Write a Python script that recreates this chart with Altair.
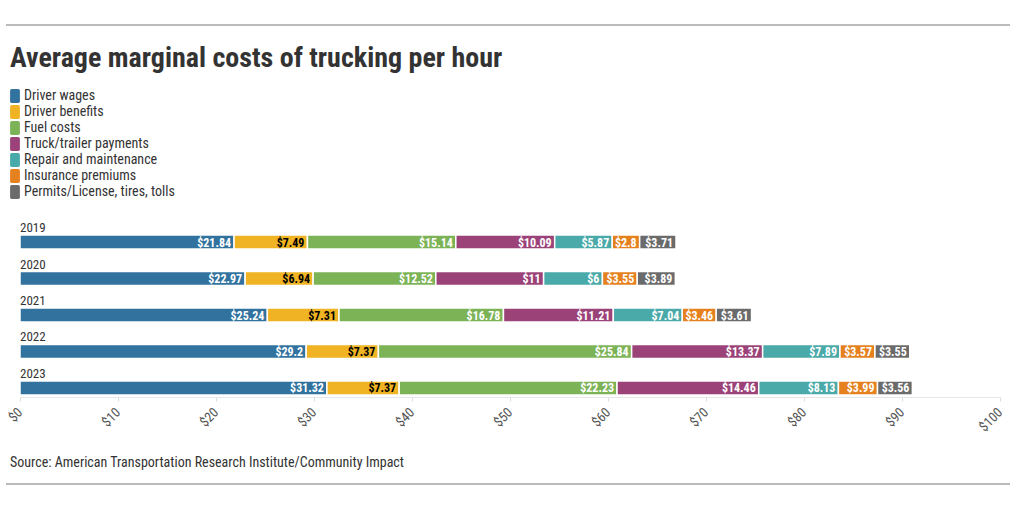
import altair as alt
import pandas as pd

years = ["2019", "2020", "2021", "2022", "2023"]
categories = ["Driver wages", "Driver benefits", "Fuel costs", "Truck/trailer payments",
              "Repair and maintenance", "Insurance premiums", "Permits/License, tires, tolls"]
colors = ["#32729e", "#efb323", "#7db357", "#9b4379", "#4aa9a9", "#e5811f", "#6b6b6b"]
label_colors = ["white", "black", "white", "white", "white", "white", "white"]

driver_wages = [21.84, 22.97, 25.24, 29.2, 31.32]
driver_benefits = [7.49, 6.94, 7.31, 7.37, 7.37]
fuel_costs = [15.14, 12.52, 16.78, 25.84, 22.23]
truck_payments = [10.09, 11, 11.21, 13.37, 14.46]
repair = [5.87, 6, 7.04, 7.89, 8.13]
insurance = [2.8, 3.55, 3.46, 3.57, 3.99]
permits = [3.71, 3.89, 3.61, 3.55, 3.56]

series = [driver_wages, driver_benefits, fuel_costs, truck_payments, repair, insurance, permits]

title_text = "Average marginal costs of trucking per hour"
source_text = "Source: American Transportation Research Institute/Community Impact"
tick_values = [0, 10, 20, 30, 40, 50, 60, 70, 80, 90, 100]

FONT = "Roboto Condensed, Liberation Sans Narrow, DejaVu Sans Condensed, Roboto"

rows = []
for yi, y in enumerate(years):
    start = 0.0
    for ci, c in enumerate(categories):
        v = series[ci][yi]
        rows.append({"year": y, "cat": c, "value": v, "start": start, "end": start + v,
                     "label": "$" + ("%g" % v), "lc": label_colors[ci], "order": ci})
        start += v
df = pd.DataFrame(rows)

W, H = 980, 164

xscale = alt.Scale(domain=[0, 100], nice=False)
yscale = alt.Scale(domain=years, paddingInner=0.616, paddingOuter=0.055)

SYMBOL = ("M-0.46,-1 L0.46,-1 Q0.7,-1 0.7,-0.76 L0.7,0.76 Q0.7,1 0.46,1 "
          "L-0.46,1 Q-0.7,1 -0.7,0.76 L-0.7,-0.76 Q-0.7,-1 -0.46,-1 Z")

bars = alt.Chart(df).mark_bar(stroke="white", strokeWidth=1.5).encode(
    x=alt.X("start:Q", scale=xscale, axis=alt.Axis(
        values=tick_values, labelExpr="'$' + datum.label", title=None, grid=False,
        ticks=True, tickSize=4, tickColor="#dddddd", labelAngle=-45, labelAlign="right",
        labelBaseline="middle", labelPadding=9, labelFontSize=13.5, labelColor="#555",
        labelFont=FONT, domainColor="#e6e6e6", labelFlush=False)),
    x2="end:Q",
    y=alt.Y("year:N", scale=yscale, axis=None),
    color=alt.Color("cat:N", scale=alt.Scale(domain=categories, range=colors),
                    legend=alt.Legend(
                        title=None, orient="none", legendX=-12, legendY=-144,
                        direction="vertical", padding=0, rowPadding=2,
                        symbolType=SYMBOL,
                        symbolSize=196, symbolStrokeWidth=0, symbolOpacity=1,
                        labelFontSize=14, labelColor="#333", labelFont=FONT,
                        labelOffset=2, labelLimit=400)),
)

values = alt.Chart(df).mark_text(align="right", baseline="middle", dx=-3, dy=0.5,
                                 fontSize=12, fontWeight="bold", font=FONT).encode(
    x=alt.X("end:Q", scale=xscale),
    y=alt.Y("year:N", scale=yscale),
    text="label:N",
    color=alt.Color("lc:N", scale=None),
)

year_labels = alt.Chart(pd.DataFrame({"year": years})).mark_text(
    align="left", baseline="alphabetic", dy=-10, fontSize=13, color="#333", font=FONT).encode(
    x=alt.value(0),
    y=alt.Y("year:N", scale=yscale),
    text="year:N",
)

title = alt.Chart(pd.DataFrame({"t": [title_text]})).mark_text(
    align="left", baseline="alphabetic", fontSize=28, fontWeight="bold", color="#333", font=FONT).encode(
    x=alt.value(-10), y=alt.value(-166), text="t:N")

source = alt.Chart(pd.DataFrame({"t": [source_text]})).mark_text(
    align="left", baseline="alphabetic", fontSize=14, color="#333", font=FONT).encode(
    x=alt.value(-10), y=alt.value(234), text="t:N")

top_rule = alt.Chart(pd.DataFrame({"a": [1]})).mark_rule(color="#777", strokeWidth=1).encode(
    x=alt.value(-14), x2=alt.value(990), y=alt.value(-208))
bottom_rule = alt.Chart(pd.DataFrame({"a": [1]})).mark_rule(color="#777", strokeWidth=1).encode(
    x=alt.value(-14), x2=alt.value(990), y=alt.value(251))

chart = alt.layer(bars, values, year_labels, title, source, top_rule, bottom_rule).properties(
    width=W, height=H,
    background="white",
    padding={"left": 20, "top": 233, "right": 20, "bottom": 112},
    autosize=alt.AutoSizeParams(type="none"),
).configure_view(stroke=None)

chart.save("out.html", embed_options={"renderer": "svg", "actions": False})
